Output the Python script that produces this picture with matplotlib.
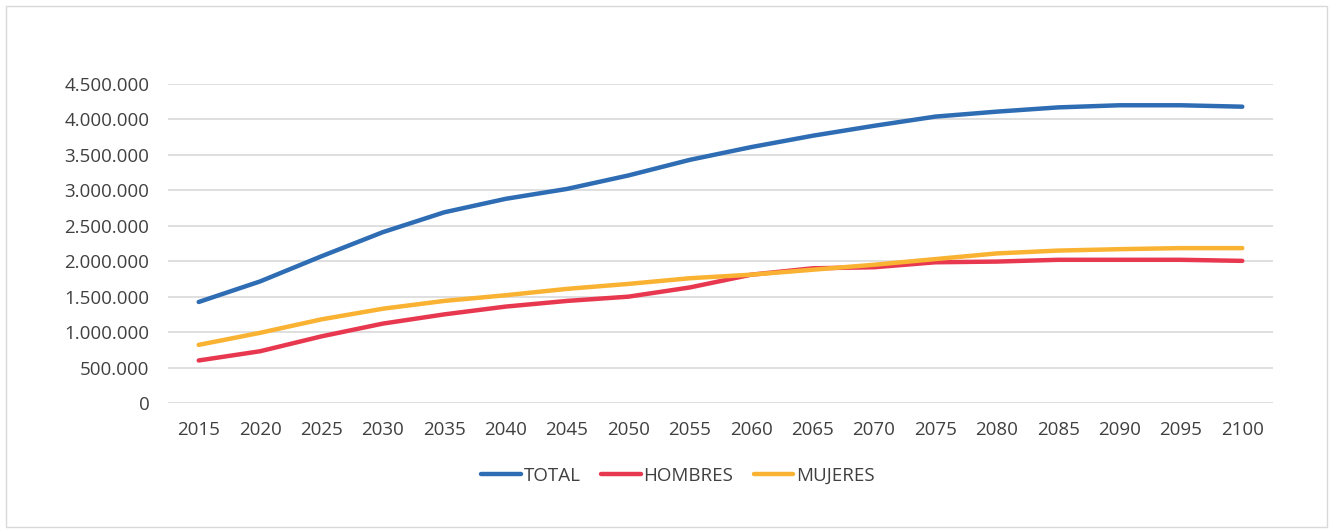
import matplotlib
matplotlib.use("Agg")
import matplotlib.pyplot as plt
from matplotlib.patches import Rectangle
from matplotlib.ticker import FuncFormatter, MultipleLocator

years = ["2015", "2020", "2025", "2030", "2035", "2040", "2045", "2050", "2055",
         "2060", "2065", "2070", "2075", "2080", "2085", "2090", "2095", "2100"]
total = [1425000, 1715000, 2070000, 2410000, 2690000, 2880000, 3020000, 3210000, 3430000,
         3610000, 3770000, 3910000, 4040000, 4110000, 4170000, 4200000, 4200000, 4180000]
hombres = [600000, 730000, 940000, 1120000, 1250000, 1360000, 1440000, 1500000, 1630000,
           1810000, 1900000, 1915000, 1985000, 1995000, 2020000, 2020000, 2020000, 2005000]
mujeres = [820000, 990000, 1180000, 1330000, 1440000, 1520000, 1610000, 1680000, 1760000,
           1810000, 1880000, 1950000, 2030000, 2110000, 2150000, 2170000, 2185000, 2185000]

plt.rcParams['font.family'] = ['Open Sans', 'DejaVu Sans']

W, H = 1333, 532
fig = plt.figure(figsize=(W / 100, H / 100), dpi=100)
fig.patch.set_facecolor("white")
fig.patches.append(Rectangle((6 / W, 5 / H), 1 - 12 / W, 1 - 11 / H, transform=fig.transFigure,
                             fill=False, edgecolor="#d9d9d9", linewidth=1))

ax = fig.add_axes([168 / W, 1 - 403 / H, (1273 - 168) / W, (403 - 84) / H])
x = list(range(len(years)))
lw = 3.2
ax.plot(x, total, color="#2E6DB4", lw=lw, label="TOTAL", solid_capstyle="round")
ax.plot(x, hombres, color="#E8384F", lw=lw, label="HOMBRES", solid_capstyle="round")
ax.plot(x, mujeres, color="#F9B232", lw=lw, label="MUJERES", solid_capstyle="round")

ax.set_xlim(-0.5, len(years) - 0.5)
ax.set_ylim(0, 4500000)
ax.yaxis.set_major_locator(MultipleLocator(500000))
ax.yaxis.set_major_formatter(FuncFormatter(lambda v, p: f"{int(v):,}".replace(",", ".")))
ax.set_xticks(x)
ax.set_xticklabels(years)
ax.grid(axis="y", color="#d9d9d9", linewidth=1.2)
ax.set_axisbelow(True)
for s in ax.spines.values():
    s.set_visible(False)
ax.tick_params(axis="both", length=0, labelsize=13.5, colors="#404040")
ax.tick_params(axis="x", pad=13)
ax.tick_params(axis="y", pad=13.5)

leg = fig.legend(loc="center", bbox_to_anchor=(678 / W, 1 - 476 / H), ncol=3, frameon=False,
                 fontsize=13.5, handlelength=2.1, handletextpad=0.15, columnspacing=1.1)
for t in leg.get_texts():
    t.set_color("#404040")

fig.savefig("out.png", dpi=100, facecolor="white")
